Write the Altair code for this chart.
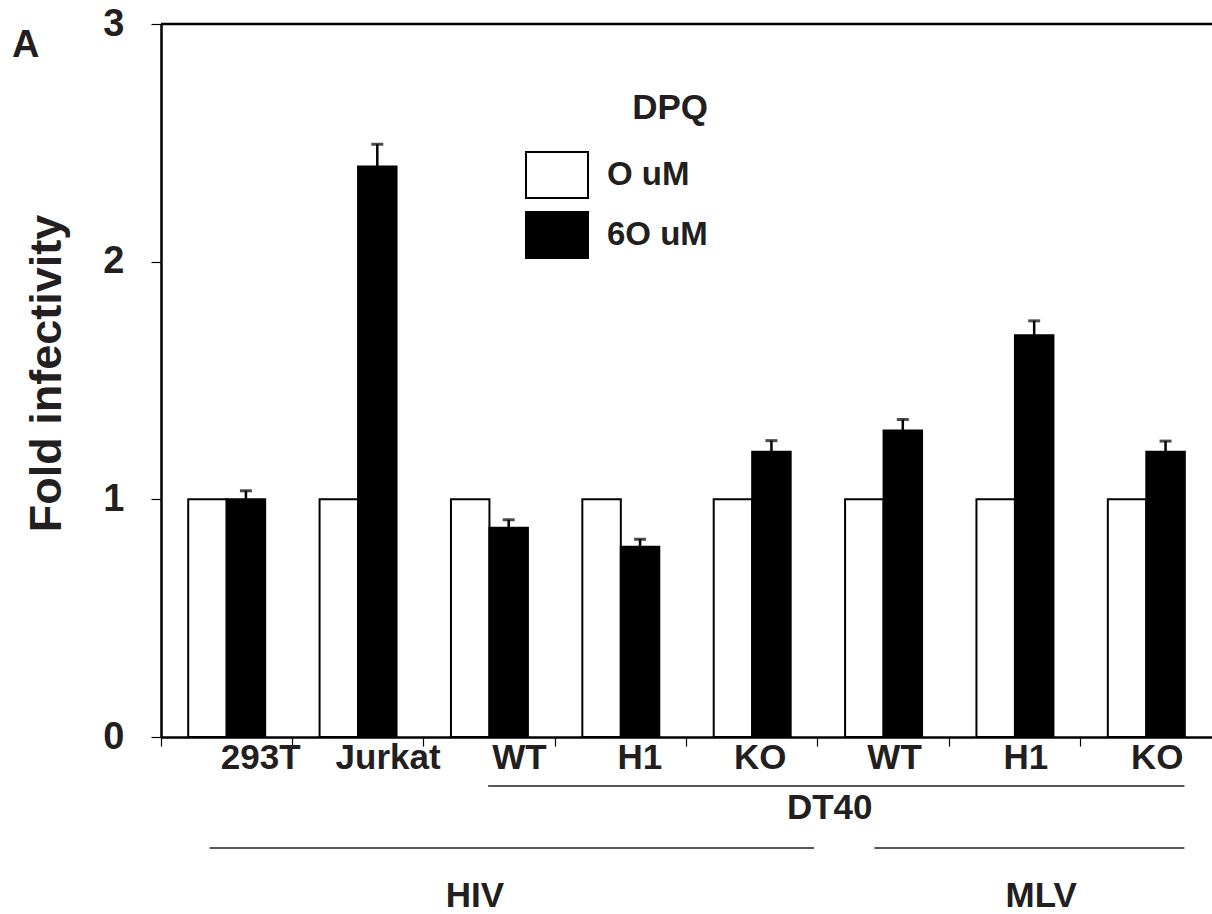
import altair as alt
import pandas as pd

# ---- data ----
cell_lines = ["293T", "Jurkat", "WT", "H1", "KO", "WT", "H1", "KO"]
virus = ["HIV", "HIV", "HIV", "HIV", "HIV", "MLV", "MLV", "MLV"]
doses = ["O uM", "6O uM"]
untreated = [1.0, 1.0, 1.0, 1.0, 1.0, 1.0, 1.0, 1.0]
treated = [1.00, 2.40, 0.88, 0.80, 1.20, 1.29, 1.69, 1.20]
treated_err = [0.036, 0.094, 0.034, 0.032, 0.047, 0.046, 0.061, 0.045]

# grouping brackets below the axis (in category-index units, 0..8)
group_names = ["DT40", "HIV", "MLV"]
group_start = [2.49, 0.37, 5.43]
group_end = [7.79, 4.97, 7.79]
group_label_at = [5.09, 2.39, 6.70]
group_row = ["upper", "lower", "lower"]

ids = [f"{v}|{c}" for v, c in zip(virus, cell_lines)]

rows = []
for cid, u, t in zip(ids, untreated, treated):
    rows.append({"cid": cid, "dose": doses[0], "value": u})
    rows.append({"cid": cid, "dose": doses[1], "value": t})
bars_df = pd.DataFrame(rows)
err_df = pd.DataFrame({
    "cid": ids,
    "dose": [doses[1]] * len(ids),
    "value": treated,
    "upper": [t + e for t, e in zip(treated, treated_err)],
})
groups_df = pd.DataFrame({
    "name": group_names, "start": group_start, "end": group_end,
    "label_at": group_label_at, "row": group_row,
})

FONT = "Liberation Sans"
TXT = "#231f20"

label_offset = {
    "condition": [
        {"test": "datum.value == 'HIV|293T'", "value": 34},
        {"test": "datum.value == 'HIV|Jurkat' || datum.value == 'HIV|WT'", "value": 30},
        {"test": "datum.value == 'HIV|H1'", "value": 19},
        {"test": "datum.value == 'HIV|KO'", "value": 8},
    ],
    "value": 11,
}

x_axis = alt.Axis(
    title=None, labelExpr="split(datum.label, '|')[1]", bandPosition=0,
    labelAngle=0, labelFont=FONT, labelFontSize=35, labelFontWeight="bold",
    labelColor=TXT, labelPadding=-6, labelOffset=label_offset, labelBaseline="top",
    tickSize=9, tickWidth=1.2, tickColor="black",
    domainColor="black", domainWidth=2.5, grid=False,
)
y_axis = alt.Axis(
    title="Fold infectivity", values=[0, 1, 2, 3], format="d",
    titleFont=FONT, titleFontSize=45, titleFontWeight="bold", titleColor=TXT,
    titlePadding=33, titleY=349, titleAlign="center",
    labelFont=FONT, labelFontSize=38, labelFontWeight="bold",
    labelColor=TXT, labelPadding=27, tickSize=10, tickWidth=1.2, tickColor="black",
    domainColor="black", domainWidth=2.5, grid=False,
)

xenc = alt.X("cid:N", sort=ids, scale=alt.Scale(domain=ids, paddingInner=0, paddingOuter=0), axis=x_axis)
xoff = alt.XOffset("dose:N", scale=alt.Scale(domain=doses, paddingInner=0, paddingOuter=0.707))
yscale = alt.Scale(domain=[0, 3], nice=False, zero=True)

bar_path = "M-1,-0.742L1,-0.742L1,0.742L-1,0.742Z"

bars = alt.Chart(bars_df).mark_bar(stroke="black", strokeWidth=2).encode(
    x=xenc,
    xOffset=xoff,
    y=alt.Y("value:Q", scale=yscale, axis=y_axis),
    fill=alt.Fill("dose:N", scale=alt.Scale(domain=doses, range=["white", "black"]),
                  legend=alt.Legend(
                      orient="none", legendX=364, legendY=67, padding=0,
                      title="DPQ", titleFont=FONT, titleFontSize=35, titleFontWeight="bold",
                      titleColor=TXT, titleAnchor="end", titlePadding=17,
                      labelFont=FONT, labelFontSize=33, labelFontWeight="bold",
                      labelColor=TXT, labelOffset=18,
                      symbolType=bar_path, symbolSize=3844,
                      symbolStrokeColor="black", symbolStrokeWidth=2, rowPadding=-2,
                  )),
)

err = alt.Chart(err_df).mark_rule(color="black", strokeWidth=2.5).encode(
    x=alt.X("cid:N", sort=ids), xOffset=alt.XOffset("dose:N"),
    y=alt.Y("value:Q"), y2="upper:Q",
)
cap = alt.Chart(err_df).mark_tick(color="black", thickness=3, size=12, orient="horizontal").encode(
    x=alt.X("cid:N", sort=ids), xOffset=alt.XOffset("dose:N"),
    y=alt.Y("upper:Q"),
)
top = alt.Chart(pd.DataFrame({"v": [3]})).mark_rule(color="black", strokeWidth=2.5).encode(
    y=alt.datum(3)
)

base = alt.layer(bars, err, cap, top)

gx = alt.Scale(domain=[0, 8], nice=False, zero=False)
ann = alt.Chart(groups_df)
line_up = ann.transform_filter("datum.row == 'upper'").mark_rule(color=TXT, strokeWidth=1.5).encode(
    x=alt.X("start:Q", scale=gx, axis=None), x2="end:Q", y=alt.value(762))
line_lo = ann.transform_filter("datum.row == 'lower'").mark_rule(color=TXT, strokeWidth=1.5).encode(
    x=alt.X("start:Q", scale=gx, axis=None), x2="end:Q", y=alt.value(824))
txt_up = ann.transform_filter("datum.row == 'upper'").mark_text(
    font=FONT, fontSize=35, fontWeight="bold", color=TXT, baseline="alphabetic", align="center"
).encode(x=alt.X("label_at:Q", scale=gx, axis=None), y=alt.value(795), text="name:N")
txt_lo = ann.transform_filter("datum.row == 'lower'").mark_text(
    font=FONT, fontSize=35, fontWeight="bold", color=TXT, baseline="alphabetic", align="center"
).encode(x=alt.X("label_at:Q", scale=gx, axis=None), y=alt.value(883), text="name:N")

annotations = alt.layer(line_up, line_lo, txt_up, txt_lo)

chart = alt.layer(base, annotations).resolve_scale(x="independent").properties(
    width=1051, height=713,
    autosize=alt.AutoSizeParams(type="none"),
    padding={"left": 161, "top": 24, "right": 0, "bottom": 177},
    title=alt.Title("A", anchor="start", frame="group", dx=-149, dy=90, offset=0,
                    baseline="alphabetic", font=FONT, fontSize=38, fontWeight="bold",
                    color=TXT),
).configure_view(stroke=None).configure(background="white")

chart.save("out.html", embed_options={"renderer": "svg", "actions": False})
